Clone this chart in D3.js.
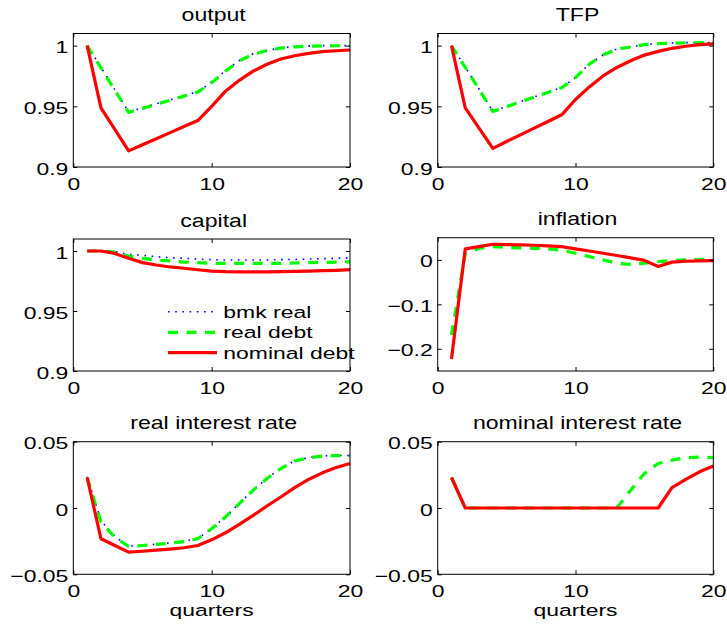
<!DOCTYPE html>
<html>
<head>
<meta charset="utf-8">
<script src="https://cdn.jsdelivr.net/npm/d3@7"></script>
<style>
  body { margin: 0; background: #fff; }
  svg { display: block; }
  text { font-family: "Liberation Sans", Arial, sans-serif; fill: #000; }
</style>
</head>
<body>
<svg id="chart" width="727" height="625"></svg>
<script>
// quarters on the x axis
const quarters = [1, 2, 3, 4, 5, 6, 7, 8, 9, 10, 11, 12, 13, 14, 15, 16, 17, 18, 19, 20];

// output
const outputBmk  = [1.000, 0.9822, 0.9637, 0.9454, 0.9487, 0.9521, 0.9554, 0.9588, 0.9621, 0.9699, 0.9794, 0.9878, 0.9933, 0.9960, 0.9982, 0.9992, 0.9998, 1.000, 1.000, 1.000];
const outputReal = [1.000, 0.9817, 0.9633, 0.9450, 0.9483, 0.9517, 0.9550, 0.9584, 0.9617, 0.9695, 0.9790, 0.9875, 0.9930, 0.9958, 0.9980, 0.9990, 0.9996, 0.9998, 0.9999, 0.9999];
const outputNom  = [1.000, 0.9487, 0.9310, 0.9133, 0.9183, 0.9233, 0.9283, 0.9333, 0.9383, 0.9500, 0.9625, 0.9714, 0.9790, 0.9847, 0.9890, 0.9917, 0.9936, 0.9950, 0.9958, 0.9964];

// TFP
const tfpBmk  = [1.000, 0.9823, 0.9643, 0.9460, 0.9499, 0.9538, 0.9577, 0.9616, 0.9655, 0.9738, 0.9849, 0.9923, 0.9973, 0.9990, 1.0009, 1.0018, 1.0022, 1.0025, 1.0025, 1.0025];
const tfpReal = [1.000, 0.9820, 0.9640, 0.9458, 0.9497, 0.9536, 0.9575, 0.9614, 0.9653, 0.9736, 0.9847, 0.9922, 0.9972, 0.9988, 1.0008, 1.0017, 1.0020, 1.0023, 1.0024, 1.0024];
const tfpNom  = [1.000, 0.9487, 0.9320, 0.9153, 0.9210, 0.9265, 0.9320, 0.9375, 0.9430, 0.9556, 0.9660, 0.9750, 0.9820, 0.9875, 0.9922, 0.9953, 0.9978, 0.9995, 1.0008, 1.0014];

// capital
const capitalBmk  = [1.000, 1.000, 0.9995, 0.9972, 0.9964, 0.9953, 0.9944, 0.9939, 0.9933, 0.9928, 0.9925, 0.9925, 0.9925, 0.9925, 0.9928, 0.9930, 0.9933, 0.9936, 0.9939, 0.9944];
const capitalReal = [1.000, 1.000, 0.9990, 0.9958, 0.9939, 0.9925, 0.9917, 0.9908, 0.9903, 0.9897, 0.9897, 0.9897, 0.9897, 0.9897, 0.9897, 0.9900, 0.9903, 0.9905, 0.9908, 0.9910];
const capitalNom  = [1.000, 1.000, 0.9980, 0.9939, 0.9903, 0.9883, 0.9867, 0.9856, 0.9844, 0.9833, 0.9828, 0.9826, 0.9826, 0.9826, 0.9828, 0.9830, 0.9833, 0.9836, 0.9839, 0.9844];

// inflation (no benchmark series)
const inflationReal = [-0.169, 0.0135, 0.026, 0.030, 0.028, 0.027, 0.026, 0.025, 0.022, 0.015, 0.0075, 0.000, -0.0075, -0.010, -0.0075, -0.004, -0.0015, 0.000, 0.0008, 0.0015];
const inflationNom  = [-0.223, 0.0247, 0.030, 0.0353, 0.0345, 0.034, 0.033, 0.0315, 0.030, 0.025, 0.020, 0.015, 0.010, 0.0045, -0.001, -0.015, -0.005, -0.003, -0.002, -0.0015];

// real interest rate
const realRateBmk  = [0.0235, -0.0095, -0.0215, -0.0288, -0.0281, -0.0273, -0.0263, -0.0251, -0.0230, -0.0155, -0.0066, 0.0035, 0.0136, 0.0224, 0.0299, 0.0355, 0.0380, 0.0392, 0.0397, 0.0395];
const realRateReal = [0.0230, -0.0106, -0.0220, -0.0290, -0.0283, -0.0275, -0.0265, -0.0253, -0.0232, -0.0157, -0.0068, 0.0033, 0.0134, 0.0222, 0.0298, 0.0354, 0.0379, 0.0391, 0.0396, 0.0394];
const realRateNom  = [0.0230, -0.0232, -0.0283, -0.0333, -0.0326, -0.0318, -0.0310, -0.0300, -0.0283, -0.0240, -0.0187, -0.0124, -0.0056, 0.0015, 0.0083, 0.0154, 0.0215, 0.0265, 0.0305, 0.0336];

// nominal interest rate (no benchmark series)
const nomRateReal = [0.023, 0, 0, 0, 0, 0, 0, 0, 0, 0, 0, 0, 0, 0.0134, 0.026, 0.0336, 0.0361, 0.0379, 0.0384, 0.038];
const nomRateNom  = [0.023, 0, 0, 0, 0, 0, 0, 0, 0, 0, 0, 0, 0, 0, 0, 0, 0.0154, 0.0215, 0.0273, 0.0316];

// tick labels
const xTicks = [0, 10, 20];
const levelTicks = [0.9, 0.95, 1];
const levelLabels = ["0.9", "0.95", "1"];
const inflationTicks = [-0.2, -0.1, 0];
const inflationLabels = ["\u22120.2", "\u22120.1", "0"];
const rateTicks = [-0.05, 0, 0.05];
const rateLabels = ["\u22120.05", "0", "0.05"];

const legendNames = ["bmk real", "real debt", "nominal debt"];

// line styles: bmk dotted blue, real dashed green, nominal solid red
const styles = {
    bmk:  { color: "#0000ff", width: 1.6, dash: "1.6,5.6" },
    real: { color: "#00ff00", width: 3.2, dash: "10,8.5" },
    nom:  { color: "#ff0000", width: 3.2, dash: null }
};

const STRETCH = 1.35; // text in the picture is stretched horizontally

const panels = [
    { title: "output", left: 73.3, right: 350, top: 33.5, bottom: 167, domain: [0.9, 1.01],
      ticks: levelTicks, labels: levelLabels, series: { bmk: outputBmk, real: outputReal, nom: outputNom } },
    { title: "TFP", left: 437.7, right: 713.3, top: 33.5, bottom: 167, domain: [0.9, 1.01],
      ticks: levelTicks, labels: levelLabels, series: { bmk: tfpBmk, real: tfpReal, nom: tfpNom } },
    { title: "capital", left: 73.3, right: 350, top: 239, bottom: 371, domain: [0.9, 1.01],
      ticks: levelTicks, labels: levelLabels, series: { bmk: capitalBmk, real: capitalReal, nom: capitalNom }, legend: true },
    { title: "inflation", left: 437.7, right: 713.3, top: 237.7, bottom: 371, domain: [-0.25, 0.05],
      ticks: inflationTicks, labels: inflationLabels, series: { real: inflationReal, nom: inflationNom } },
    { title: "real interest rate", left: 73.3, right: 350, top: 441.7, bottom: 574.3, domain: [-0.05, 0.05],
      ticks: rateTicks, labels: rateLabels, series: { bmk: realRateBmk, real: realRateReal, nom: realRateNom }, xlabel: "quarters" },
    { title: "nominal interest rate", left: 437.7, right: 713.3, top: 441.7, bottom: 574.3, domain: [-0.05, 0.05],
      ticks: rateTicks, labels: rateLabels, series: { real: nomRateReal, nom: nomRateNom }, xlabel: "quarters" }
];

const svg = d3.select("#chart");

function stretchText(sel, x, y, anchor, size, k = STRETCH) {
    return sel.attr("transform", `translate(${x},${y}) scale(${k},1)`)
        .attr("text-anchor", anchor)
        .style("font-size", size + "px");
}

panels.forEach(p => {
    const g = svg.append("g");
    const x = d3.scaleLinear().domain([0, 20]).range([p.left, p.right]);
    const y = d3.scaleLinear().domain(p.domain).range([p.bottom, p.top]);

    // series lines
    const line = d3.line().x((d, i) => x(quarters[i])).y(d => y(d));
    ["bmk", "real", "nom"].forEach(key => {
        if (!p.series[key]) return;
        const s = styles[key];
        g.append("path")
            .datum(p.series[key])
            .attr("fill", "none")
            .attr("stroke", s.color)
            .attr("stroke-width", s.width)
            .attr("stroke-dasharray", s.dash)
            .attr("stroke-linejoin", "round")
            .attr("d", line);
    });

    // axes with inward ticks on all four sides
    const bottomAxis = g.append("g").attr("transform", `translate(0,${p.bottom})`)
        .call(d3.axisBottom(x).tickValues(xTicks).tickSizeInner(-4).tickSizeOuter(0));
    g.append("g").attr("transform", `translate(0,${p.top})`)
        .call(d3.axisTop(x).tickValues(xTicks).tickSizeInner(-4).tickSizeOuter(0).tickFormat(""));
    const leftAxis = g.append("g").attr("transform", `translate(${p.left},0)`)
        .call(d3.axisLeft(y).tickValues(p.ticks).tickSizeInner(-4).tickSizeOuter(0));
    g.append("g").attr("transform", `translate(${p.right},0)`)
        .call(d3.axisRight(y).tickValues(p.ticks).tickSizeInner(-4).tickSizeOuter(0).tickFormat(""));

    g.selectAll(".domain").remove();
    g.selectAll(".tick line").attr("stroke", "#000").attr("stroke-width", 1);

    bottomAxis.selectAll(".tick text").each(function (d) {
        const t = d3.select(this).attr("x", null).attr("y", null).attr("dy", null).text(d);
        stretchText(t, 0, 23, "middle", 17);
    });
    leftAxis.selectAll(".tick text").each(function (d, i) {
        const t = d3.select(this).attr("x", null).attr("y", null).attr("dy", null).text(p.labels[i]);
        stretchText(t, -5, 7, "end", 17);
    });

    // box
    g.append("rect")
        .attr("x", p.left).attr("y", p.top)
        .attr("width", p.right - p.left).attr("height", p.bottom - p.top)
        .attr("fill", "none").attr("stroke", "#000").attr("stroke-width", 1);

    // title
    stretchText(g.append("text").text(p.title), (p.left + p.right) / 2 + 2, p.top - 12.5, "middle", 17.5, 1.32);

    if (p.xlabel) {
        stretchText(g.append("text").text(p.xlabel), (p.left + p.right) / 2, 616, "middle", 17);
    }

    if (p.legend) {
        const legend = g.append("g");
        const rows = [
            { key: "bmk", ly: 311.7 },
            { key: "real", ly: 332.3 },
            { key: "nom", ly: 352.7 }
        ];
        rows.forEach((r, i) => {
            const s = styles[r.key];
            legend.append("line")
                .attr("x1", 168).attr("x2", 217)
                .attr("y1", r.ly).attr("y2", r.ly)
                .attr("stroke", s.color)
                .attr("stroke-width", s.width)
                .attr("stroke-dasharray", s.dash);
            stretchText(legend.append("text").text(legendNames[i]), 223.3, r.ly + 5.8, "start", 17);
        });
    }
});
</script>
</body>
</html>
